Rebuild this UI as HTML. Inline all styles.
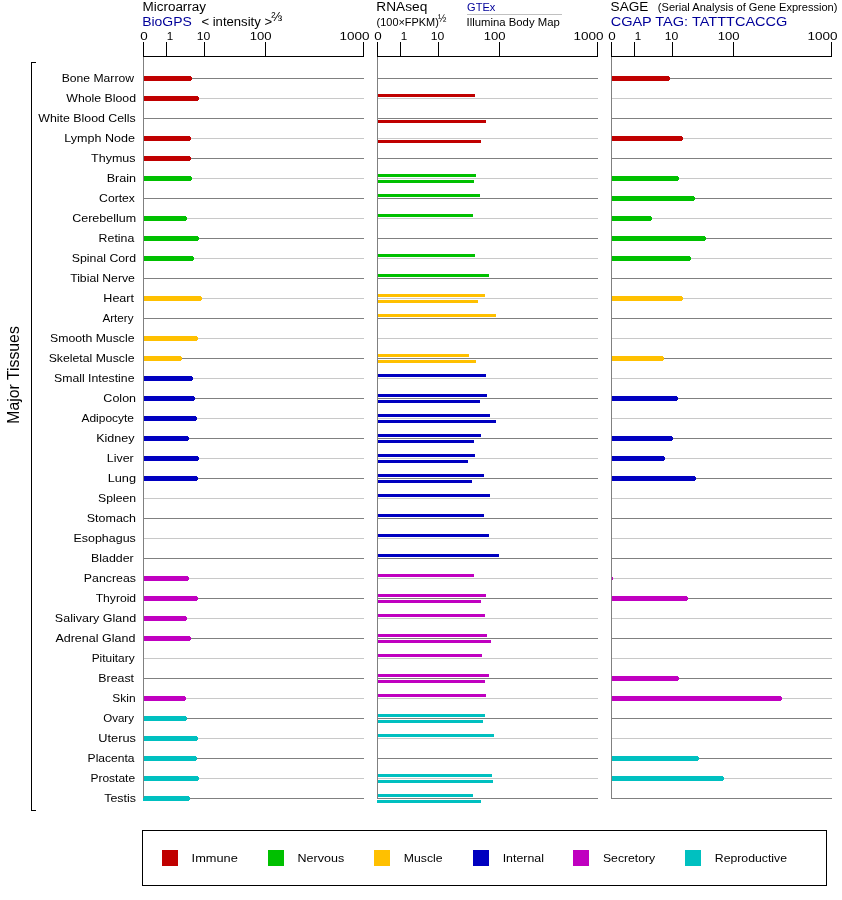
<!DOCTYPE html>
<html><head><meta charset="utf-8"><title>Expression</title>
<style>
html,body{margin:0;padding:0;background:#fff;}
svg{display:block;}
text{font-family:"Liberation Sans",sans-serif;fill:#000;}
.b{fill:#000099;}
</style></head><body>
<svg width="842" height="900" viewBox="0 0 842 900">
<rect width="842" height="900" fill="#fff"/>

<g shape-rendering="crispEdges">
<rect x="143" y="78" width="221" height="1" fill="#808080"/>
<rect x="143" y="98" width="221" height="1" fill="#c8c8c8"/>
<rect x="143" y="118" width="221" height="1" fill="#808080"/>
<rect x="143" y="138" width="221" height="1" fill="#c8c8c8"/>
<rect x="143" y="158" width="221" height="1" fill="#808080"/>
<rect x="143" y="178" width="221" height="1" fill="#c8c8c8"/>
<rect x="143" y="198" width="221" height="1" fill="#808080"/>
<rect x="143" y="218" width="221" height="1" fill="#c8c8c8"/>
<rect x="143" y="238" width="221" height="1" fill="#808080"/>
<rect x="143" y="258" width="221" height="1" fill="#c8c8c8"/>
<rect x="143" y="278" width="221" height="1" fill="#808080"/>
<rect x="143" y="298" width="221" height="1" fill="#c8c8c8"/>
<rect x="143" y="318" width="221" height="1" fill="#808080"/>
<rect x="143" y="338" width="221" height="1" fill="#c8c8c8"/>
<rect x="143" y="358" width="221" height="1" fill="#808080"/>
<rect x="143" y="378" width="221" height="1" fill="#c8c8c8"/>
<rect x="143" y="398" width="221" height="1" fill="#808080"/>
<rect x="143" y="418" width="221" height="1" fill="#c8c8c8"/>
<rect x="143" y="438" width="221" height="1" fill="#808080"/>
<rect x="143" y="458" width="221" height="1" fill="#c8c8c8"/>
<rect x="143" y="478" width="221" height="1" fill="#808080"/>
<rect x="143" y="498" width="221" height="1" fill="#c8c8c8"/>
<rect x="143" y="518" width="221" height="1" fill="#808080"/>
<rect x="143" y="538" width="221" height="1" fill="#c8c8c8"/>
<rect x="143" y="558" width="221" height="1" fill="#808080"/>
<rect x="143" y="578" width="221" height="1" fill="#c8c8c8"/>
<rect x="143" y="598" width="221" height="1" fill="#808080"/>
<rect x="143" y="618" width="221" height="1" fill="#c8c8c8"/>
<rect x="143" y="638" width="221" height="1" fill="#808080"/>
<rect x="143" y="658" width="221" height="1" fill="#c8c8c8"/>
<rect x="143" y="678" width="221" height="1" fill="#808080"/>
<rect x="143" y="698" width="221" height="1" fill="#c8c8c8"/>
<rect x="143" y="718" width="221" height="1" fill="#808080"/>
<rect x="143" y="738" width="221" height="1" fill="#c8c8c8"/>
<rect x="143" y="758" width="221" height="1" fill="#808080"/>
<rect x="143" y="778" width="221" height="1" fill="#c8c8c8"/>
<rect x="143" y="798" width="221" height="1" fill="#808080"/>
<rect x="377" y="78" width="221" height="1" fill="#808080"/>
<rect x="377" y="98" width="221" height="1" fill="#c8c8c8"/>
<rect x="377" y="118" width="221" height="1" fill="#808080"/>
<rect x="377" y="138" width="221" height="1" fill="#c8c8c8"/>
<rect x="377" y="158" width="221" height="1" fill="#808080"/>
<rect x="377" y="178" width="221" height="1" fill="#c8c8c8"/>
<rect x="377" y="198" width="221" height="1" fill="#808080"/>
<rect x="377" y="218" width="221" height="1" fill="#c8c8c8"/>
<rect x="377" y="238" width="221" height="1" fill="#808080"/>
<rect x="377" y="258" width="221" height="1" fill="#c8c8c8"/>
<rect x="377" y="278" width="221" height="1" fill="#808080"/>
<rect x="377" y="298" width="221" height="1" fill="#c8c8c8"/>
<rect x="377" y="318" width="221" height="1" fill="#808080"/>
<rect x="377" y="338" width="221" height="1" fill="#c8c8c8"/>
<rect x="377" y="358" width="221" height="1" fill="#808080"/>
<rect x="377" y="378" width="221" height="1" fill="#c8c8c8"/>
<rect x="377" y="398" width="221" height="1" fill="#808080"/>
<rect x="377" y="418" width="221" height="1" fill="#c8c8c8"/>
<rect x="377" y="438" width="221" height="1" fill="#808080"/>
<rect x="377" y="458" width="221" height="1" fill="#c8c8c8"/>
<rect x="377" y="478" width="221" height="1" fill="#808080"/>
<rect x="377" y="498" width="221" height="1" fill="#c8c8c8"/>
<rect x="377" y="518" width="221" height="1" fill="#808080"/>
<rect x="377" y="538" width="221" height="1" fill="#c8c8c8"/>
<rect x="377" y="558" width="221" height="1" fill="#808080"/>
<rect x="377" y="578" width="221" height="1" fill="#c8c8c8"/>
<rect x="377" y="598" width="221" height="1" fill="#808080"/>
<rect x="377" y="618" width="221" height="1" fill="#c8c8c8"/>
<rect x="377" y="638" width="221" height="1" fill="#808080"/>
<rect x="377" y="658" width="221" height="1" fill="#c8c8c8"/>
<rect x="377" y="678" width="221" height="1" fill="#808080"/>
<rect x="377" y="698" width="221" height="1" fill="#c8c8c8"/>
<rect x="377" y="718" width="221" height="1" fill="#808080"/>
<rect x="377" y="738" width="221" height="1" fill="#c8c8c8"/>
<rect x="377" y="758" width="221" height="1" fill="#808080"/>
<rect x="377" y="778" width="221" height="1" fill="#c8c8c8"/>
<rect x="377" y="798" width="221" height="1" fill="#808080"/>
<rect x="611" y="78" width="221" height="1" fill="#808080"/>
<rect x="611" y="98" width="221" height="1" fill="#c8c8c8"/>
<rect x="611" y="118" width="221" height="1" fill="#808080"/>
<rect x="611" y="138" width="221" height="1" fill="#c8c8c8"/>
<rect x="611" y="158" width="221" height="1" fill="#808080"/>
<rect x="611" y="178" width="221" height="1" fill="#c8c8c8"/>
<rect x="611" y="198" width="221" height="1" fill="#808080"/>
<rect x="611" y="218" width="221" height="1" fill="#c8c8c8"/>
<rect x="611" y="238" width="221" height="1" fill="#808080"/>
<rect x="611" y="258" width="221" height="1" fill="#c8c8c8"/>
<rect x="611" y="278" width="221" height="1" fill="#808080"/>
<rect x="611" y="298" width="221" height="1" fill="#c8c8c8"/>
<rect x="611" y="318" width="221" height="1" fill="#808080"/>
<rect x="611" y="338" width="221" height="1" fill="#c8c8c8"/>
<rect x="611" y="358" width="221" height="1" fill="#808080"/>
<rect x="611" y="378" width="221" height="1" fill="#c8c8c8"/>
<rect x="611" y="398" width="221" height="1" fill="#808080"/>
<rect x="611" y="418" width="221" height="1" fill="#c8c8c8"/>
<rect x="611" y="438" width="221" height="1" fill="#808080"/>
<rect x="611" y="458" width="221" height="1" fill="#c8c8c8"/>
<rect x="611" y="478" width="221" height="1" fill="#808080"/>
<rect x="611" y="498" width="221" height="1" fill="#c8c8c8"/>
<rect x="611" y="518" width="221" height="1" fill="#808080"/>
<rect x="611" y="538" width="221" height="1" fill="#c8c8c8"/>
<rect x="611" y="558" width="221" height="1" fill="#808080"/>
<rect x="611" y="578" width="221" height="1" fill="#c8c8c8"/>
<rect x="611" y="598" width="221" height="1" fill="#808080"/>
<rect x="611" y="618" width="221" height="1" fill="#c8c8c8"/>
<rect x="611" y="638" width="221" height="1" fill="#808080"/>
<rect x="611" y="658" width="221" height="1" fill="#c8c8c8"/>
<rect x="611" y="678" width="221" height="1" fill="#808080"/>
<rect x="611" y="698" width="221" height="1" fill="#c8c8c8"/>
<rect x="611" y="718" width="221" height="1" fill="#808080"/>
<rect x="611" y="738" width="221" height="1" fill="#c8c8c8"/>
<rect x="611" y="758" width="221" height="1" fill="#808080"/>
<rect x="611" y="778" width="221" height="1" fill="#c8c8c8"/>
<rect x="611" y="798" width="221" height="1" fill="#808080"/>
<rect x="143" y="76" width="48" height="5" fill="#c00000"/><rect x="191" y="77" width="1" height="3" fill="#c00000"/>
<rect x="611" y="76" width="58" height="5" fill="#c00000"/><rect x="669" y="77" width="1" height="3" fill="#c00000"/>
<rect x="143" y="96" width="55" height="5" fill="#c00000"/><rect x="198" y="97" width="1" height="3" fill="#c00000"/>
<rect x="377" y="94" width="98" height="3" fill="#c00000"/>
<rect x="377" y="120" width="109" height="3" fill="#c00000"/>
<rect x="143" y="136" width="47" height="5" fill="#c00000"/><rect x="190" y="137" width="1" height="3" fill="#c00000"/>
<rect x="377" y="140" width="104" height="3" fill="#c00000"/>
<rect x="611" y="136" width="71" height="5" fill="#c00000"/><rect x="682" y="137" width="1" height="3" fill="#c00000"/>
<rect x="143" y="156" width="47" height="5" fill="#c00000"/><rect x="190" y="157" width="1" height="3" fill="#c00000"/>
<rect x="143" y="176" width="48" height="5" fill="#00c000"/><rect x="191" y="177" width="1" height="3" fill="#00c000"/>
<rect x="377" y="174" width="99" height="3" fill="#00c000"/>
<rect x="377" y="180" width="97" height="3" fill="#00c000"/>
<rect x="611" y="176" width="67" height="5" fill="#00c000"/><rect x="678" y="177" width="1" height="3" fill="#00c000"/>
<rect x="377" y="194" width="103" height="3" fill="#00c000"/>
<rect x="611" y="196" width="83" height="5" fill="#00c000"/><rect x="694" y="197" width="1" height="3" fill="#00c000"/>
<rect x="143" y="216" width="43" height="5" fill="#00c000"/><rect x="186" y="217" width="1" height="3" fill="#00c000"/>
<rect x="377" y="214" width="96" height="3" fill="#00c000"/>
<rect x="611" y="216" width="40" height="5" fill="#00c000"/><rect x="651" y="217" width="1" height="3" fill="#00c000"/>
<rect x="143" y="236" width="55" height="5" fill="#00c000"/><rect x="198" y="237" width="1" height="3" fill="#00c000"/>
<rect x="611" y="236" width="94" height="5" fill="#00c000"/><rect x="705" y="237" width="1" height="3" fill="#00c000"/>
<rect x="143" y="256" width="50" height="5" fill="#00c000"/><rect x="193" y="257" width="1" height="3" fill="#00c000"/>
<rect x="377" y="254" width="98" height="3" fill="#00c000"/>
<rect x="611" y="256" width="79" height="5" fill="#00c000"/><rect x="690" y="257" width="1" height="3" fill="#00c000"/>
<rect x="377" y="274" width="112" height="3" fill="#00c000"/>
<rect x="143" y="296" width="58" height="5" fill="#ffc000"/><rect x="201" y="297" width="1" height="3" fill="#ffc000"/>
<rect x="377" y="294" width="108" height="3" fill="#ffc000"/>
<rect x="377" y="300" width="101" height="3" fill="#ffc000"/>
<rect x="611" y="296" width="71" height="5" fill="#ffc000"/><rect x="682" y="297" width="1" height="3" fill="#ffc000"/>
<rect x="377" y="314" width="119" height="3" fill="#ffc000"/>
<rect x="143" y="336" width="54" height="5" fill="#ffc000"/><rect x="197" y="337" width="1" height="3" fill="#ffc000"/>
<rect x="143" y="356" width="38" height="5" fill="#ffc000"/><rect x="181" y="357" width="1" height="3" fill="#ffc000"/>
<rect x="377" y="354" width="92" height="3" fill="#ffc000"/>
<rect x="377" y="360" width="99" height="3" fill="#ffc000"/>
<rect x="611" y="356" width="52" height="5" fill="#ffc000"/><rect x="663" y="357" width="1" height="3" fill="#ffc000"/>
<rect x="143" y="376" width="49" height="5" fill="#0000c0"/><rect x="192" y="377" width="1" height="3" fill="#0000c0"/>
<rect x="377" y="374" width="109" height="3" fill="#0000c0"/>
<rect x="143" y="396" width="51" height="5" fill="#0000c0"/><rect x="194" y="397" width="1" height="3" fill="#0000c0"/>
<rect x="377" y="394" width="110" height="3" fill="#0000c0"/>
<rect x="377" y="400" width="103" height="3" fill="#0000c0"/>
<rect x="611" y="396" width="66" height="5" fill="#0000c0"/><rect x="677" y="397" width="1" height="3" fill="#0000c0"/>
<rect x="143" y="416" width="53" height="5" fill="#0000c0"/><rect x="196" y="417" width="1" height="3" fill="#0000c0"/>
<rect x="377" y="414" width="113" height="3" fill="#0000c0"/>
<rect x="377" y="420" width="119" height="3" fill="#0000c0"/>
<rect x="143" y="436" width="45" height="5" fill="#0000c0"/><rect x="188" y="437" width="1" height="3" fill="#0000c0"/>
<rect x="377" y="434" width="104" height="3" fill="#0000c0"/>
<rect x="377" y="440" width="97" height="3" fill="#0000c0"/>
<rect x="611" y="436" width="61" height="5" fill="#0000c0"/><rect x="672" y="437" width="1" height="3" fill="#0000c0"/>
<rect x="143" y="456" width="55" height="5" fill="#0000c0"/><rect x="198" y="457" width="1" height="3" fill="#0000c0"/>
<rect x="377" y="454" width="98" height="3" fill="#0000c0"/>
<rect x="377" y="460" width="91" height="3" fill="#0000c0"/>
<rect x="611" y="456" width="53" height="5" fill="#0000c0"/><rect x="664" y="457" width="1" height="3" fill="#0000c0"/>
<rect x="143" y="476" width="54" height="5" fill="#0000c0"/><rect x="197" y="477" width="1" height="3" fill="#0000c0"/>
<rect x="377" y="474" width="107" height="3" fill="#0000c0"/>
<rect x="377" y="480" width="95" height="3" fill="#0000c0"/>
<rect x="611" y="476" width="84" height="5" fill="#0000c0"/><rect x="695" y="477" width="1" height="3" fill="#0000c0"/>
<rect x="377" y="494" width="113" height="3" fill="#0000c0"/>
<rect x="377" y="514" width="107" height="3" fill="#0000c0"/>
<rect x="377" y="534" width="112" height="3" fill="#0000c0"/>
<rect x="377" y="554" width="122" height="3" fill="#0000c0"/>
<rect x="143" y="576" width="45" height="5" fill="#c000c0"/><rect x="188" y="577" width="1" height="3" fill="#c000c0"/>
<rect x="377" y="574" width="97" height="3" fill="#c000c0"/>
<rect x="143" y="596" width="54" height="5" fill="#c000c0"/><rect x="197" y="597" width="1" height="3" fill="#c000c0"/>
<rect x="377" y="594" width="109" height="3" fill="#c000c0"/>
<rect x="377" y="600" width="104" height="3" fill="#c000c0"/>
<rect x="611" y="596" width="76" height="5" fill="#c000c0"/><rect x="687" y="597" width="1" height="3" fill="#c000c0"/>
<rect x="143" y="616" width="43" height="5" fill="#c000c0"/><rect x="186" y="617" width="1" height="3" fill="#c000c0"/>
<rect x="377" y="614" width="108" height="3" fill="#c000c0"/>
<rect x="143" y="636" width="47" height="5" fill="#c000c0"/><rect x="190" y="637" width="1" height="3" fill="#c000c0"/>
<rect x="377" y="634" width="110" height="3" fill="#c000c0"/>
<rect x="377" y="640" width="114" height="3" fill="#c000c0"/>
<rect x="377" y="654" width="105" height="3" fill="#c000c0"/>
<rect x="377" y="674" width="112" height="3" fill="#c000c0"/>
<rect x="377" y="680" width="108" height="3" fill="#c000c0"/>
<rect x="611" y="676" width="67" height="5" fill="#c000c0"/><rect x="678" y="677" width="1" height="3" fill="#c000c0"/>
<rect x="143" y="696" width="42" height="5" fill="#c000c0"/><rect x="185" y="697" width="1" height="3" fill="#c000c0"/>
<rect x="377" y="694" width="109" height="3" fill="#c000c0"/>
<rect x="611" y="696" width="170" height="5" fill="#c000c0"/><rect x="781" y="697" width="1" height="3" fill="#c000c0"/>
<rect x="143" y="716" width="43" height="5" fill="#00c0c0"/><rect x="186" y="717" width="1" height="3" fill="#00c0c0"/>
<rect x="377" y="714" width="108" height="3" fill="#00c0c0"/>
<rect x="377" y="720" width="106" height="3" fill="#00c0c0"/>
<rect x="143" y="736" width="54" height="5" fill="#00c0c0"/><rect x="197" y="737" width="1" height="3" fill="#00c0c0"/>
<rect x="377" y="734" width="117" height="3" fill="#00c0c0"/>
<rect x="143" y="756" width="53" height="5" fill="#00c0c0"/><rect x="196" y="757" width="1" height="3" fill="#00c0c0"/>
<rect x="611" y="756" width="87" height="5" fill="#00c0c0"/><rect x="698" y="757" width="1" height="3" fill="#00c0c0"/>
<rect x="143" y="776" width="55" height="5" fill="#00c0c0"/><rect x="198" y="777" width="1" height="3" fill="#00c0c0"/>
<rect x="377" y="774" width="115" height="3" fill="#00c0c0"/>
<rect x="377" y="780" width="116" height="3" fill="#00c0c0"/>
<rect x="611" y="776" width="112" height="5" fill="#00c0c0"/><rect x="723" y="777" width="1" height="3" fill="#00c0c0"/>
<rect x="143" y="796" width="46" height="5" fill="#00c0c0"/><rect x="189" y="797" width="1" height="3" fill="#00c0c0"/>
<rect x="377" y="794" width="96" height="3" fill="#00c0c0"/>
<rect x="377" y="800" width="104" height="3" fill="#00c0c0"/>
<rect x="611" y="577" width="2" height="3" fill="#c000c0"/>
<rect x="143" y="56" width="1" height="742" fill="#808080"/>
<rect x="143" y="56" width="221" height="1" fill="#000"/>
<rect x="143" y="42" width="1" height="15" fill="#000"/>
<rect x="166" y="42" width="1" height="15" fill="#000"/>
<rect x="204" y="42" width="1" height="15" fill="#000"/>
<rect x="265" y="42" width="1" height="15" fill="#000"/>
<rect x="363" y="42" width="1" height="15" fill="#000"/>
<rect x="377" y="56" width="1" height="742" fill="#808080"/>
<rect x="377" y="56" width="221" height="1" fill="#000"/>
<rect x="377" y="42" width="1" height="15" fill="#000"/>
<rect x="400" y="42" width="1" height="15" fill="#000"/>
<rect x="438" y="42" width="1" height="15" fill="#000"/>
<rect x="499" y="42" width="1" height="15" fill="#000"/>
<rect x="597" y="42" width="1" height="15" fill="#000"/>
<rect x="611" y="56" width="1" height="742" fill="#808080"/>
<rect x="611" y="56" width="221" height="1" fill="#000"/>
<rect x="611" y="42" width="1" height="15" fill="#000"/>
<rect x="634" y="42" width="1" height="15" fill="#000"/>
<rect x="672" y="42" width="1" height="15" fill="#000"/>
<rect x="733" y="42" width="1" height="15" fill="#000"/>
<rect x="831" y="42" width="1" height="15" fill="#000"/>
<rect x="31" y="62" width="1" height="749" fill="#000"/><rect x="31" y="62" width="5" height="1" fill="#000"/><rect x="31" y="810" width="5" height="1" fill="#000"/>
<rect x="142.5" y="830.5" width="684" height="55" fill="none" stroke="#000" stroke-width="1"/>
<rect x="162" y="850" width="16" height="16" fill="#c00000"/>
<rect x="268" y="850" width="16" height="16" fill="#00c000"/>
<rect x="374" y="850" width="16" height="16" fill="#ffc000"/>
<rect x="473" y="850" width="16" height="16" fill="#0000c0"/>
<rect x="573" y="850" width="16" height="16" fill="#c000c0"/>
<rect x="685" y="850" width="16" height="16" fill="#00c0c0"/>
<rect x="467" y="14" width="95" height="1" fill="#c0c0c0"/>
</g>
<text x="61.70" y="82" font-size="10.8" textLength="72.30" lengthAdjust="spacingAndGlyphs">Bone Marrow</text>
<text x="66.30" y="102" font-size="10.8" textLength="69.75" lengthAdjust="spacingAndGlyphs">Whole Blood</text>
<text x="38.30" y="122" font-size="10.8" textLength="97.50" lengthAdjust="spacingAndGlyphs">White Blood Cells</text>
<text x="64.29" y="142" font-size="10.8" textLength="70.61" lengthAdjust="spacingAndGlyphs">Lymph Node</text>
<text x="91.05" y="162" font-size="10.8" textLength="44.45" lengthAdjust="spacingAndGlyphs">Thymus</text>
<text x="106.66" y="182" font-size="10.8" textLength="29.42" lengthAdjust="spacingAndGlyphs">Brain</text>
<text x="99.10" y="202" font-size="10.8" textLength="35.86" lengthAdjust="spacingAndGlyphs">Cortex</text>
<text x="72.19" y="222" font-size="10.8" textLength="63.86" lengthAdjust="spacingAndGlyphs">Cerebellum</text>
<text x="98.60" y="242" font-size="10.8" textLength="35.70" lengthAdjust="spacingAndGlyphs">Retina</text>
<text x="71.80" y="262" font-size="10.8" textLength="64.26" lengthAdjust="spacingAndGlyphs">Spinal Cord</text>
<text x="70.15" y="282" font-size="10.8" textLength="64.75" lengthAdjust="spacingAndGlyphs">Tibial Nerve</text>
<text x="103.39" y="302" font-size="10.8" textLength="30.61" lengthAdjust="spacingAndGlyphs">Heart</text>
<text x="102.50" y="322" font-size="10.8" textLength="31.00" lengthAdjust="spacingAndGlyphs">Artery</text>
<text x="50.00" y="342" font-size="10.8" textLength="84.50" lengthAdjust="spacingAndGlyphs">Smooth Muscle</text>
<text x="48.70" y="362" font-size="10.8" textLength="85.80" lengthAdjust="spacingAndGlyphs">Skeletal Muscle</text>
<text x="54.00" y="382" font-size="10.8" textLength="80.50" lengthAdjust="spacingAndGlyphs">Small Intestine</text>
<text x="103.39" y="402" font-size="10.8" textLength="32.67" lengthAdjust="spacingAndGlyphs">Colon</text>
<text x="81.50" y="422" font-size="10.8" textLength="52.50" lengthAdjust="spacingAndGlyphs">Adipocyte</text>
<text x="96.20" y="442" font-size="10.8" textLength="38.30" lengthAdjust="spacingAndGlyphs">Kidney</text>
<text x="106.89" y="462" font-size="10.8" textLength="26.87" lengthAdjust="spacingAndGlyphs">Liver</text>
<text x="107.66" y="482" font-size="10.8" textLength="28.41" lengthAdjust="spacingAndGlyphs">Lung</text>
<text x="98.00" y="502" font-size="10.8" textLength="38.06" lengthAdjust="spacingAndGlyphs">Spleen</text>
<text x="86.79" y="522" font-size="10.8" textLength="49.26" lengthAdjust="spacingAndGlyphs">Stomach</text>
<text x="73.49" y="542" font-size="10.8" textLength="62.31" lengthAdjust="spacingAndGlyphs">Esophagus</text>
<text x="91.09" y="562" font-size="10.8" textLength="42.57" lengthAdjust="spacingAndGlyphs">Bladder</text>
<text x="83.89" y="582" font-size="10.8" textLength="52.02" lengthAdjust="spacingAndGlyphs">Pancreas</text>
<text x="95.65" y="602" font-size="10.8" textLength="40.50" lengthAdjust="spacingAndGlyphs">Thyroid</text>
<text x="54.89" y="622" font-size="10.8" textLength="81.26" lengthAdjust="spacingAndGlyphs">Salivary Gland</text>
<text x="55.40" y="642" font-size="10.8" textLength="79.95" lengthAdjust="spacingAndGlyphs">Adrenal Gland</text>
<text x="91.70" y="662" font-size="10.8" textLength="42.91" lengthAdjust="spacingAndGlyphs">Pituitary</text>
<text x="98.30" y="682" font-size="10.8" textLength="35.70" lengthAdjust="spacingAndGlyphs">Breast</text>
<text x="112.39" y="702" font-size="10.8" textLength="23.28" lengthAdjust="spacingAndGlyphs">Skin</text>
<text x="103.21" y="722" font-size="10.8" textLength="30.79" lengthAdjust="spacingAndGlyphs">Ovary</text>
<text x="98.28" y="742" font-size="10.8" textLength="37.62" lengthAdjust="spacingAndGlyphs">Uterus</text>
<text x="87.60" y="762" font-size="10.8" textLength="47.01" lengthAdjust="spacingAndGlyphs">Placenta</text>
<text x="90.49" y="782" font-size="10.8" textLength="44.62" lengthAdjust="spacingAndGlyphs">Prostate</text>
<text x="104.25" y="802" font-size="10.8" textLength="31.65" lengthAdjust="spacingAndGlyphs">Testis</text>
<text x="140.25" y="40" font-size="10.8" textLength="7.47" lengthAdjust="spacingAndGlyphs">0</text>
<text x="166.65" y="40" font-size="10.8" textLength="6.48" lengthAdjust="spacingAndGlyphs">1</text>
<text x="196.83" y="40" font-size="10.8" textLength="13.59" lengthAdjust="spacingAndGlyphs">10</text>
<text x="249.77" y="40" font-size="10.8" textLength="21.84" lengthAdjust="spacingAndGlyphs">100</text>
<text x="339.58" y="40" font-size="10.8" textLength="30.04" lengthAdjust="spacingAndGlyphs">1000</text>
<text x="374.25" y="40" font-size="10.8" textLength="7.47" lengthAdjust="spacingAndGlyphs">0</text>
<text x="400.65" y="40" font-size="10.8" textLength="6.48" lengthAdjust="spacingAndGlyphs">1</text>
<text x="430.83" y="40" font-size="10.8" textLength="13.59" lengthAdjust="spacingAndGlyphs">10</text>
<text x="483.77" y="40" font-size="10.8" textLength="21.84" lengthAdjust="spacingAndGlyphs">100</text>
<text x="573.58" y="40" font-size="10.8" textLength="30.04" lengthAdjust="spacingAndGlyphs">1000</text>
<text x="608.25" y="40" font-size="10.8" textLength="7.47" lengthAdjust="spacingAndGlyphs">0</text>
<text x="634.65" y="40" font-size="10.8" textLength="6.48" lengthAdjust="spacingAndGlyphs">1</text>
<text x="664.83" y="40" font-size="10.8" textLength="13.59" lengthAdjust="spacingAndGlyphs">10</text>
<text x="717.77" y="40" font-size="10.8" textLength="21.84" lengthAdjust="spacingAndGlyphs">100</text>
<text x="807.58" y="40" font-size="10.8" textLength="30.04" lengthAdjust="spacingAndGlyphs">1000</text>
<text x="142.50" y="10.7" font-size="12.5" textLength="63.56" lengthAdjust="spacingAndGlyphs">Microarray</text>
<text x="142.18" y="25.6" font-size="12.5" textLength="49.68" lengthAdjust="spacingAndGlyphs" class="b">BioGPS</text>
<text x="201.40" y="25.6" font-size="12.5" textLength="70.66" lengthAdjust="spacingAndGlyphs">&lt; intensity &gt;</text>
<text x="271.26" y="21" font-size="12.5" textLength="10.90" lengthAdjust="spacingAndGlyphs">⅔</text>
<text x="376.37" y="11" font-size="12.5" textLength="50.94" lengthAdjust="spacingAndGlyphs">RNAseq</text>
<text x="376.64" y="26" font-size="10.2" textLength="62.22" lengthAdjust="spacingAndGlyphs">(100×FPKM)</text>
<text x="438.05" y="21.8" font-size="10.2" textLength="8.41" lengthAdjust="spacingAndGlyphs">½</text>
<text x="467.10" y="10.5" font-size="10.2" textLength="28.15" lengthAdjust="spacingAndGlyphs" class="b">GTEx</text>
<text x="466.59" y="25.5" font-size="10.2" textLength="93.21" lengthAdjust="spacingAndGlyphs">Illumina Body Map</text>
<text x="610.64" y="11" font-size="12.5" textLength="37.77" lengthAdjust="spacingAndGlyphs">SAGE</text>
<text x="657.85" y="10.7" font-size="10.2" textLength="179.61" lengthAdjust="spacingAndGlyphs">(Serial Analysis of Gene Expression)</text>
<text x="610.65" y="25.7" font-size="12.5" textLength="176.76" lengthAdjust="spacingAndGlyphs" class="b">CGAP TAG: TATTTCACCG</text>
<text x="191.58" y="862" font-size="10.8" textLength="46.23" lengthAdjust="spacingAndGlyphs">Immune</text>
<text x="297.59" y="862" font-size="10.8" textLength="46.62" lengthAdjust="spacingAndGlyphs">Nervous</text>
<text x="403.89" y="862" font-size="10.8" textLength="38.72" lengthAdjust="spacingAndGlyphs">Muscle</text>
<text x="502.68" y="862" font-size="10.8" textLength="41.29" lengthAdjust="spacingAndGlyphs">Internal</text>
<text x="603.00" y="862" font-size="10.8" textLength="52.10" lengthAdjust="spacingAndGlyphs">Secretory</text>
<text x="714.79" y="862" font-size="10.8" textLength="72.21" lengthAdjust="spacingAndGlyphs">Reproductive</text>
<text transform="translate(19,422.4) rotate(-90)" x="-1.26" y="0" font-size="15.6" textLength="97.46" lengthAdjust="spacingAndGlyphs">Major Tissues</text>
</svg></body></html>
